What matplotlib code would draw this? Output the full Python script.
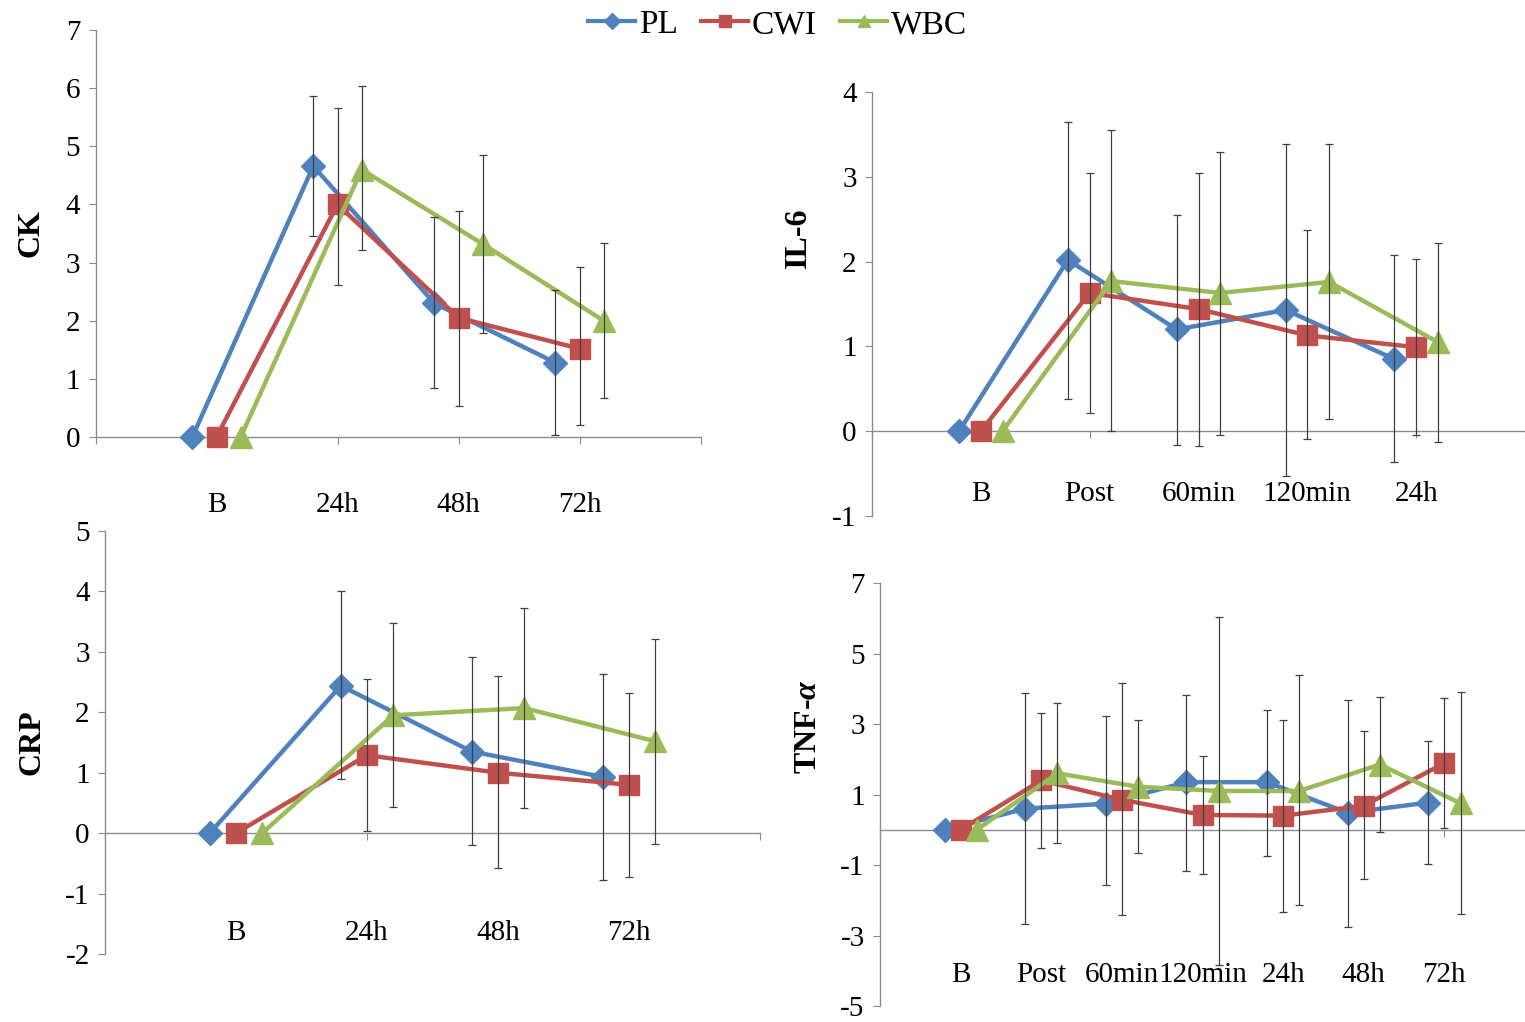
import matplotlib
matplotlib.use('Agg')
import matplotlib.pyplot as plt
from matplotlib.transforms import blended_transform_factory
from matplotlib.lines import Line2D

plt.rcParams['font.family'] = ['Liberation Serif', 'DejaVu Serif']
plt.rcParams['mathtext.fontset'] = 'custom'
plt.rcParams['mathtext.it'] = 'Liberation Serif:italic:bold'
plt.rcParams['mathtext.rm'] = 'Liberation Serif:bold'
plt.rcParams['axes.unicode_minus'] = False

groups = ['PL', 'CWI', 'WBC']
colors = ['#4F81BD', '#C0504D', '#9BBB59']
markers = ['D', 's', '^']
msizes = [12, 14, 16]

# CK
ck_labels = ['B', '24h', '48h', '72h']
ck_mean = [[0, 4.66, 2.30, 1.28], [0, 4.00, 2.05, 1.52], [0, 4.60, 3.32, 2.00]]
ck_hi = [[0, 5.87, 3.78, 2.52], [0, 5.65, 3.88, 2.93], [0, 6.04, 4.85, 3.34]]
ck_lo = [[0, 3.45, 0.85, 0.03], [0, 2.61, 0.53, 0.20], [0, 3.22, 1.79, 0.67]]

# IL-6
il6_labels = ['B', 'Post', '60min', '120min', '24h']
il6_mean = [[0, 2.02, 1.20, 1.43, 0.85], [0, 1.63, 1.44, 1.13, 0.99], [0, 1.77, 1.63, 1.76, 1.05]]
il6_hi = [[0, 3.65, 2.55, 3.39, 2.08], [0, 3.05, 3.05, 2.37, 2.03], [0, 3.55, 3.29, 3.39, 2.22]]
il6_lo = [[0, 0.38, -0.16, -0.53, -0.36], [0, 0.22, -0.18, -0.09, -0.05], [0, 0.00, -0.04, 0.14, -0.13]]

# CRP
crp_labels = ['B', '24h', '48h', '72h']
crp_mean = [[0, 2.44, 1.35, 0.93], [0, 1.29, 1.00, 0.80], [0, 1.95, 2.07, 1.52]]
crp_hi = [[0, 4.00, 2.91, 2.64], [0, 2.55, 2.60, 2.32], [0, 3.47, 3.72, 3.21]]
crp_lo = [[0, 0.89, -0.19, -0.78], [0, 0.03, -0.57, -0.72], [0, 0.44, 0.42, -0.18]]

# TNF-a
tnf_labels = ['B', 'Post', '60min', '120min', '24h', '48h', '72h']
tnf_mean = [[0, 0.60, 0.74, 1.35, 1.35, 0.48, 0.77],
            [0, 1.40, 0.85, 0.42, 0.40, 0.68, 1.89],
            [0, 1.60, 1.22, 1.10, 1.10, 1.85, 0.75]]
tnf_hi = [[0, 3.88, 3.22, 3.81, 3.41, 3.69, 2.53],
          [0, 3.32, 4.16, 2.08, 3.10, 2.80, 3.74],
          [0, 3.59, 3.10, 6.03, 4.38, 3.76, 3.92]]
tnf_lo = [[0, -2.67, -1.58, -1.17, -0.74, -2.76, -0.98],
          [0, -0.52, -2.41, -1.25, -2.32, -1.39, 0.06],
          [0, -0.38, -0.66, -3.85, -2.13, -0.07, -2.40]]

W, H = 1525, 1022
AXIS_GRAY = '#8C8C8C'


def panel(fig, box, labels, mean, hi, lo, ylim, yticks, ylabel, label_y, ylabel_pos):
    l, t, r, b = box
    ax = fig.add_axes([l / W, 1 - b / H, (r - l) / W, (b - t) / H])
    n = len(labels)
    for k in range(3):
        xs = [i + 1 + (k - 1) * 0.2 for i in range(n)]
        ys = mean[k]
        yerr = [[m - v for m, v in zip(ys, lo[k])], [v - m for m, v in zip(ys, hi[k])]]
        ax.plot(xs, ys, color=colors[k], lw=3.2, marker=markers[k], ms=msizes[k],
                mec=colors[k], mfc=colors[k], zorder=3 + k, clip_on=False)
        ax.errorbar(xs[1:], ys[1:], yerr=[yerr[0][1:], yerr[1][1:]], fmt='none',
                    ecolor='#404040', elinewidth=0.9, capsize=3, capthick=0.9, zorder=6)
    ax.set_xlim(0, n + 1)
    ax.set_ylim(*ylim)
    ax.set_yticks(yticks)
    ax.set_xticks(range(n + 2))
    ax.set_xticklabels([])
    for s in ['top', 'right']:
        ax.spines[s].set_visible(False)
    ax.spines['bottom'].set_position(('data', 0))
    for s in ['left', 'bottom']:
        ax.spines[s].set_color(AXIS_GRAY)
        ax.spines[s].set_linewidth(1)
    ax.tick_params(axis='y', direction='out', length=5, color=AXIS_GRAY, labelsize=21, pad=6)
    ax.tick_params(axis='x', direction='out', length=5, color=AXIS_GRAY)
    trans = blended_transform_factory(ax.transData, ax.transAxes)
    for i, lab in enumerate(labels):
        ax.text(i + 1, label_y, lab, transform=trans, ha='center', va='center',
                fontsize=21, clip_on=False)
    ax.set_ylabel(ylabel, fontsize=23, fontweight='bold')
    ax.yaxis.set_label_coords(*ylabel_pos)
    ax.patch.set_alpha(0)
    return ax


fig = plt.figure(figsize=(W / 100, H / 100), dpi=100)

panel(fig, (95.5, 30, 700.5, 437), ck_labels, ck_mean, ck_hi, ck_lo,
      (0, 7), range(0, 8), 'CK', -0.167, (-0.083, 0.5))
panel(fig, (872, 92, 1525, 516), il6_labels, il6_mean, il6_hi, il6_lo,
      (-1, 4), range(-1, 5), 'IL-6', 0.052, (-0.09, 0.656))
panel(fig, (105, 531, 760, 954), crp_labels, crp_mean, crp_hi, crp_lo,
      (-2, 5), range(-2, 6), 'CRP', 0.05, (-0.09, 0.5))
panel(fig, (880, 583, 1525, 1006), tnf_labels, tnf_mean, tnf_hi, tnf_lo,
      (-5, 7), range(-5, 8, 2), r'TNF-$\alpha$', 0.073, (-0.088, 0.66))

handles = [Line2D([], [], color=colors[k], lw=3, marker=markers[k], ms=8) for k in range(3)]
fig.legend(handles, groups, loc='upper center', bbox_to_anchor=(0.51, 1.02), ncol=3,
           frameon=False, fontsize=24, handlelength=1.4, handletextpad=0.12, columnspacing=0.7)

fig.savefig('out.png', dpi=100)
